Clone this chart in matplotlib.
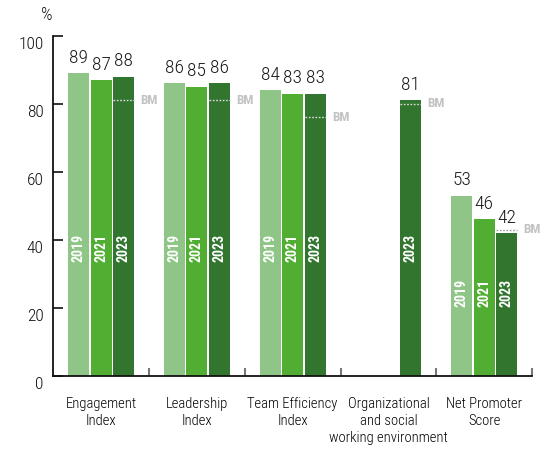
import matplotlib
matplotlib.use("Agg")
import matplotlib.pyplot as plt
import matplotlib.transforms as mtransforms
import numpy as np

plt.rcParams['font.family'] = ['Roboto Condensed', 'DejaVu Sans']
plt.rcParams['font.weight'] = 300

# ---- data ----
categories = ["Engagement\nIndex", "Leadership\nIndex", "Team Efficiency\nIndex",
              "Organizational\nand social\nworking environment", "Net Promoter\nScore"]
years = ["2019", "2021", "2023"]
values_2019 = [89, 86, 84, None, 53]
values_2021 = [87, 85, 83, None, 46]
values_2023 = [88, 86, 83, 81, 42]
benchmark = [81, 81, 76, 80, 43]
yticks = [0, 20, 40, 60, 80, 100]

# ---- style ----
colors = ["#8fc587", "#52ad33", "#31752e"]
bar_w = 0.219
step = 0.235
year_label_y = [37.5, 37.5, 37.5, 37.5, 24.5]

fig = plt.figure(figsize=(5.51, 4.54), dpi=100)
ax = fig.add_axes([53.3 / 551, 1 - 376 / 454, (532 - 53.3) / 551, (376 - 35.7) / 454])

series = [values_2019, values_2021, values_2023]
x = np.arange(len(categories))
for si, (vals, col, yr) in enumerate(zip(series, colors, years)):
    off = (si - 1) * step
    for ci, v in enumerate(vals):
        if v is None:
            continue
        xp = x[ci] + off
        ax.bar(xp, v, width=bar_w, color=col, linewidth=0, zorder=2)
        ax.annotate(str(v), (xp, v), xytext=(0, 4.5), textcoords="offset points",
                    ha="center", va="bottom", fontsize=14, color="#1a1a1a")
        ax.text(xp, year_label_y[ci], yr, rotation=90, ha="center", va="center",
                color="white", fontsize=10, fontweight="bold", zorder=3)

# benchmark markers on the 2023 bar
for ci, bm in enumerate(benchmark):
    xp = x[ci] + step
    v = values_2023[ci]
    lc = "#e0e0e0" if v >= bm else "#9a9a9a"
    ax.plot([xp - bar_w / 2, xp + bar_w / 2], [bm, bm], linestyle=(0, (1.2, 1.2)),
            color=lc, linewidth=1.0, zorder=4)
    ax.annotate("BM", (xp + bar_w / 2, bm), xytext=(4.5, 0), textcoords="offset points",
                ha="left", va="center", fontsize=9.5, fontweight="bold", color="#c2c2c2")

ax.set_xlim(-0.5, len(categories) - 0.5)
ax.set_ylim(0, 100)
ax.set_yticks(yticks)
ax.set_yticklabels([str(t) for t in yticks], fontsize=12.5)
ax.tick_params(axis="y", direction="in", length=7.2, width=1.2, pad=7, colors="#111111")
offset = mtransforms.ScaledTranslation(0, -5 / 72, fig.dpi_scale_trans)
for lab in ax.get_yticklabels():
    lab.set_transform(lab.get_transform() + offset)

ax.set_xticks(x)
ax.set_xticklabels(categories, fontsize=10.5, linespacing=1.3)
ax.tick_params(axis="x", which="major", length=0, pad=15)
ax.set_xticks(np.arange(len(categories)) + 0.5, minor=True)
ax.tick_params(axis="x", which="minor", direction="in", length=5.5, width=1.5, color="#777777")

for s in ["top", "right"]:
    ax.spines[s].set_visible(False)
for s in ["left", "bottom"]:
    ax.spines[s].set_linewidth(1.3)
    ax.spines[s].set_color("#111111")

fig.text(47 / 551, 1 - 15 / 454, "%", ha="center", va="center", fontsize=13, color="#111111")

fig.savefig("out.png", dpi=100)
